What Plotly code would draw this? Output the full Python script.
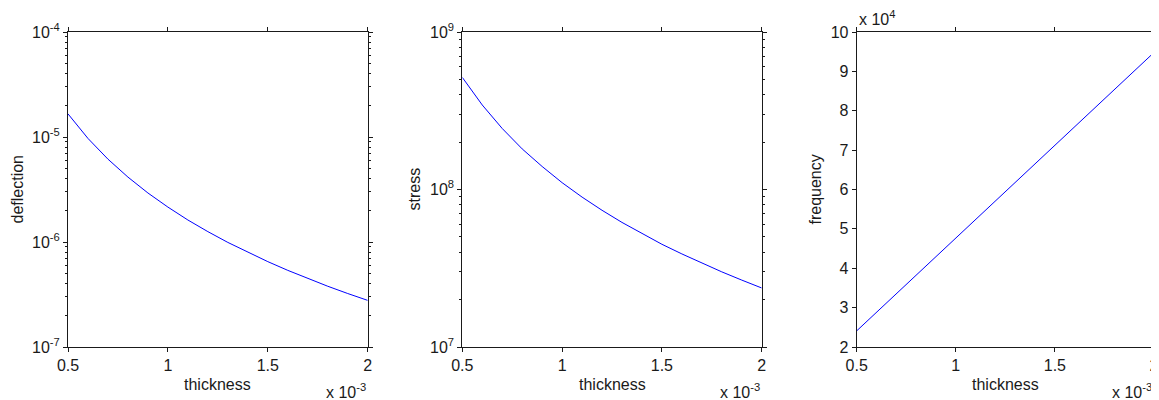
import plotly.graph_objects as go

# ---- data ----
thickness = [0.5e-3, 0.6e-3, 0.7e-3, 0.8e-3, 0.9e-3, 1.0e-3, 1.1e-3, 1.2e-3,
             1.3e-3, 1.4e-3, 1.5e-3, 1.6e-3, 1.7e-3, 1.8e-3, 1.9e-3, 2.0e-3]
deflection = [1.66e-5, 9.69e-6, 6.15e-6, 4.15e-6, 2.93e-6, 2.15e-6, 1.62e-6, 1.255e-6,
              9.91e-7, 7.97e-7, 6.50e-7, 5.37e-7, 4.49e-7, 3.79e-7, 3.23e-7, 2.78e-7]
stress = [5.15e8, 3.44e8, 2.44e8, 1.81e8, 1.40e8, 1.105e8, 8.95e7, 7.38e7,
          6.18e7, 5.24e7, 4.49e7, 3.90e7, 3.40e7, 3.00e7, 2.66e7, 2.37e7]
frequency = [2.41e4, 2.88e4, 3.35e4, 3.82e4, 4.29e4, 4.77e4, 5.24e4, 5.71e4,
             6.18e4, 6.65e4, 7.12e4, 7.59e4, 8.06e4, 8.53e4, 9.01e4, 9.48e4]

x_tickvals = [0.5e-3, 1.0e-3, 1.5e-3, 2.0e-3]
x_ticktext = ["0.5", "1", "1.5", "2"]
defl_tickvals = [1e-7, 1e-6, 1e-5, 1e-4]
defl_ticktext = ["10<sup>-7</sup>", "10<sup>-6</sup>", "10<sup>-5</sup>", "10<sup>-4</sup>"]
stress_tickvals = [1e7, 1e8, 1e9]
stress_ticktext = ["10<sup>7</sup>", "10<sup>8</sup>", "10<sup>9</sup>"]
freq_tickvals = [2e4, 3e4, 4e4, 5e4, 6e4, 7e4, 8e4, 9e4, 10e4]
freq_ticktext = ["2", "3", "4", "5", "6", "7", "8", "9", "10"]

FONT = "Liberation Sans, Arial, sans-serif"
AX = "#1a1a1a"
OFF = 8                      # page body margin in the browser
W, H = 1159 - OFF, 400 - OFF

def px(x):                   # reference pixel x -> paper
    return (x - OFF) / W

def py(y):                   # reference pixel y -> paper
    return (H - (y - OFF)) / H

def minor_log(lo_exp, hi_exp):
    return [m * 10 ** e for e in range(lo_exp, hi_exp) for m in range(2, 10)]

fig = go.Figure()
fig.add_trace(go.Scatter(x=thickness, y=deflection, mode="lines",
                         line=dict(color="#0000ff", width=1), xaxis="x", yaxis="y"))
fig.add_trace(go.Scatter(x=thickness, y=stress, mode="lines",
                         line=dict(color="#0000ff", width=1), xaxis="x2", yaxis="y2"))
fig.add_trace(go.Scatter(x=thickness, y=frequency, mode="lines",
                         line=dict(color="#0000ff", width=1), xaxis="x3", yaxis="y3"))

doms = [(px(68), px(367.7)), (px(462.3), px(761.7)), (px(856.7), px(1154))]
ydom = [py(347), py(32)]

common = dict(showline=True, linecolor=AX, linewidth=1, mirror="ticks",
              ticks="outside", ticklen=4, tickcolor=AX, tickwidth=1,
              showgrid=False, zeroline=False, automargin=False,
              tickfont=dict(family=FONT, size=16, color=AX))

layout = dict(width=W, height=H, margin=dict(l=0, r=0, t=0, b=0, autoexpand=False),
              paper_bgcolor="white", plot_bgcolor="white", showlegend=False)

for d, suffix in zip(doms, ["", "2", "3"]):
    layout["xaxis" + suffix] = dict(domain=list(d), anchor="y" + suffix,
                                    range=[0.5e-3, 2.0e-3], tickmode="array",
                                    tickvals=x_tickvals, ticktext=x_ticktext,
                                    ticklabeloverflow="allow", **common)

layout["yaxis"] = dict(domain=ydom, anchor="x", type="log", range=[-7, -4],
                       tickmode="array", tickvals=defl_tickvals, ticktext=defl_ticktext,
                       minor=dict(tickmode="array", tickvals=minor_log(-7, -4),
                                  ticks="outside", ticklen=2, tickcolor=AX, showgrid=False),
                       **common)
layout["yaxis2"] = dict(domain=ydom, anchor="x2", type="log", range=[7, 9],
                        tickmode="array", tickvals=stress_tickvals, ticktext=stress_ticktext,
                        minor=dict(tickmode="array", tickvals=minor_log(7, 9),
                                   ticks="outside", ticklen=2, tickcolor=AX, showgrid=False),
                        **common)
layout["yaxis3"] = dict(domain=ydom, anchor="x3", range=[2e4, 10e4],
                        tickmode="array", tickvals=freq_tickvals, ticktext=freq_ticktext,
                        **common)

fig.update_layout(**layout)

tf = dict(family=FONT, size=16, color=AX)
for d, label, lx in zip(doms, ["deflection", "stress", "frequency"], [17, 414, 815]):
    fig.add_annotation(text="thickness", xref="paper", yref="paper",
                       x=(d[0] + d[1]) / 2, y=py(384), showarrow=False,
                       xanchor="center", yanchor="middle", font=tf)
    fig.add_annotation(text="x 10<sup>-3</sup>", xref="paper", yref="paper",
                       x=d[1], y=py(391), showarrow=False,
                       xanchor="right", yanchor="middle", font=tf)
    fig.add_annotation(text=label, xref="paper", yref="paper", textangle=-90,
                       x=px(lx), y=py(189.5), showarrow=False,
                       xanchor="center", yanchor="middle", font=tf)

fig.add_annotation(text="x 10<sup>4</sup>", xref="paper", yref="paper",
                   x=doms[2][0], y=py(18), showarrow=False,
                   xanchor="left", yanchor="middle", font=tf)

fig.write_html("out.html")
